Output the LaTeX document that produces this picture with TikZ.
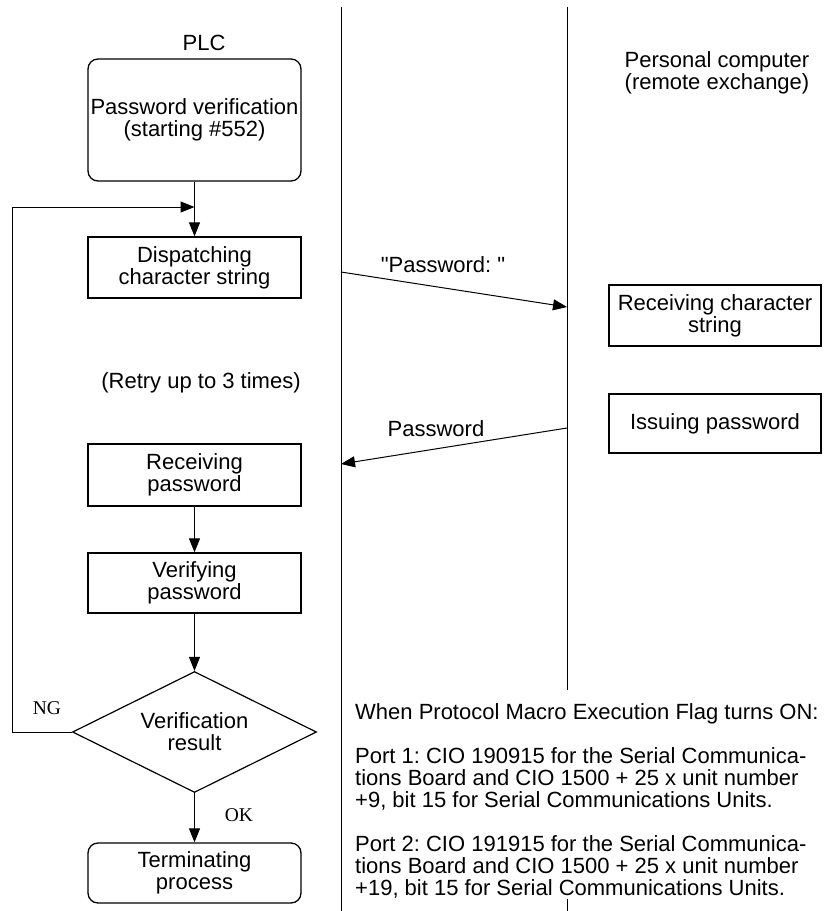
\documentclass[tikz,border=0pt]{standalone}
\usepackage{fontspec}
\setmainfont{Liberation Sans}
\newfontfamily\branchfont{Liberation Serif}
\usetikzlibrary{positioning}
\usetikzlibrary{arrows.meta}
\usetikzlibrary{shapes.geometric}
\frenchspacing

\begin{document}
\begin{tikzpicture}[x=1pt,y=-1pt,
  every node/.style={font=\fontsize{22}{22}\selectfont,inner sep=0pt,align=center},
  procbox/.style={draw,line width=1.3pt,minimum width=213pt,minimum height=61pt},
  termbox/.style={procbox,rounded corners=10pt},
  decision/.style={draw,line width=1.2pt,diamond,aspect=2,
    minimum width=244pt,minimum height=121pt},
  flow/.style={line width=1pt,-{Triangle[length=14pt,width=11pt]}},
  lifeline/.style={line width=1pt},
  branch/.style={font=\branchfont\fontsize{19.5}{20}\selectfont}]
\useasboundingbox (0,0) rectangle (829,911);

% Two lifelines: PLC on the left, personal computer on the right.
\coordinate (plctop) at (341,7);
\coordinate (plcbot) at (341,911);
\coordinate (pctop) at (567,7);
\coordinate (pcgap) at (567,690);
\coordinate (pctick) at (567,899);
\coordinate (pcbot) at (567,911);
\draw[lifeline] (plctop) -- (plcbot);
\draw[lifeline] (pctop) -- (pcgap);
\draw[lifeline] (pctick) -- (pcbot);

% PLC side of the sequence.
\node (plc) at (204,43) {PLC};
\node[termbox,minimum height=122pt] (startver) at (194.5,120)
  {Password verification\\(starting \#552)};
\node[procbox] (dispatch) at (194.5,267.5) {Dispatching\\character string};
\node (retry) at (201,383) {(Retry up to 3 times)};
\node[procbox,minimum height=62pt] (recvpw) at (194.5,475) {Receiving\\password};
\node[procbox,minimum height=60pt] (checkpw) at (194.5,583) {Verifying\\password};
\node[decision] (result) at (194.5,732) {Verification\\result};
\node[termbox,minimum height=60pt] (finish) at (194.5,873) {Terminating\\process};
\node[branch] (ng) at (47,708) {NG};
\node[branch] (ok) at (239,815) {OK};

\draw[flow] (startver) -- (dispatch);
\draw[flow] (recvpw) -- (checkpw);
\draw[flow] (checkpw) -- (result);
\draw[flow] (result) -- (finish);

% NG goes back round to the dispatch step.
\coordinate (loopcorner) at (12,207);
\coordinate (loopin) at (194.5,207);
\draw[flow] (result.west) -| (loopcorner) -- (loopin);

% Personal computer side.
\node (pc) at (717,73) {Personal computer\\(remote exchange)};
\node[procbox,minimum width=212pt] (recvstr) at (715,315.5)
  {Receiving character\\string};
\node[procbox,minimum width=212pt,minimum height=59pt] (issuepw) at (715,423.5)
  {Issuing password};

% Messages across the lifelines.
\coordinate (sendprompt) at (341,272);
\coordinate (gotprompt) at (567,307);
\draw[flow] (sendprompt) -- (gotprompt);
\node (promptlbl) at (443,265) {\textquotedbl Password:\ \textquotedbl};
\coordinate (sendpw) at (567,428);
\coordinate (gotpw) at (341,464);
\draw[flow] (sendpw) -- (gotpw);
\node (pwlbl) at (436,429) {Password};

% Note on the flag bits.
\node[anchor=north west,align=left] (flagnote) at (355,703)
  {When Protocol Macro Execution Flag turns ON:\\[22pt]
   Port 1: CIO 190915 for the Serial Communica-\\
   tions Board and CIO 1500 + 25 x unit number\\
   +9, bit 15 for Serial Communications Units.\\[22pt]
   Port 2: CIO 191915 for the Serial Communica-\\
   tions Board and CIO 1500 + 25 x unit number\\
   +19, bit 15 for Serial Communications Units.};
\end{tikzpicture}
\end{document}
